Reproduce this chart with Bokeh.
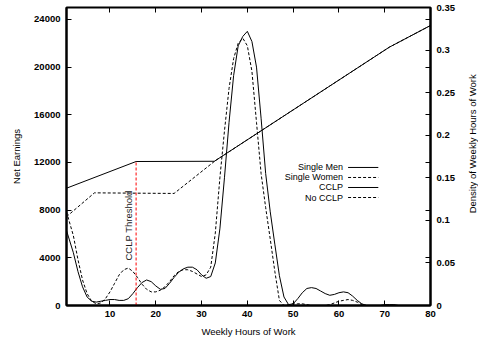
import math
from bokeh.plotting import figure
from bokeh.layouts import row
from bokeh.models import LinearAxis, Range1d, FixedTicker
from bokeh.core.properties import value
from bokeh.embed import file_html
from bokeh.resources import INLINE

# ---------------- data ----------------
hour_ticks = [10, 20, 30, 40, 50, 60, 70, 80]
earn_ticks = [0, 4000, 8000, 12000, 16000, 20000, 24000]
dens_ticks = [0, 0.05, 0.1, 0.15, 0.2, 0.25, 0.3, 0.35]
dens_tick_labels = ["0", "0.05", "0.1", "0.15", "0.2", "0.25", "0.3", "0.35"]

cclp_threshold = 15.7

men_hours = [0.5, 15.7, 32.8, 71, 80]
men_earn = [9840, 12080, 12100, 21670, 23490]

women_hours = [0.5, 6.6, 24, 33, 71, 80]
women_earn = [7450, 9450, 9400, 12150, 21670, 23490]

dens_hours = [0.5] + list(range(2, 81))
cclp_dens = [
    0.088, 0.062, 0.040, 0.022, 0.010, 0.005, 0.004, 0.005, 0.006,      # 0.5,2-9
    0.007, 0.007, 0.006, 0.006, 0.008, 0.014, 0.021, 0.027, 0.030, 0.028,  # 10-19
    0.023, 0.019, 0.020, 0.026, 0.033, 0.039, 0.043, 0.045, 0.045, 0.042,  # 20-29
    0.036, 0.032, 0.034, 0.050, 0.090, 0.150, 0.215, 0.270, 0.305, 0.316,  # 30-39
    0.322, 0.310, 0.280, 0.220, 0.155, 0.110, 0.072, 0.035, 0.010, 0.001,  # 40-49
    0.002, 0.008, 0.015, 0.020, 0.021, 0.020, 0.017, 0.014, 0.012, 0.013,  # 50-59
    0.015, 0.016, 0.015, 0.011, 0.006, 0.002, 0.000, 0.000, 0.000, 0.000,  # 60-69
    0.001, 0.001, 0.001, 0.000, 0.000, 0.000, 0.000, 0.000, 0.000, 0.000,  # 70-79
    0.000,                                                                  # 80
]
nocclp_dens = [
    0.110, 0.082, 0.054, 0.030, 0.014, 0.005, 0.002, 0.003, 0.008,      # 0.5,2-9
    0.016, 0.026, 0.036, 0.042, 0.044, 0.040, 0.033, 0.025, 0.019, 0.016,  # 10-19
    0.016, 0.018, 0.022, 0.028, 0.035, 0.040, 0.042, 0.042, 0.040, 0.037,  # 20-29
    0.034, 0.036, 0.045, 0.085, 0.150, 0.205, 0.255, 0.290, 0.308, 0.314,  # 30-39
    0.305, 0.275, 0.215, 0.155, 0.115, 0.078, 0.040, 0.006, 0.000, 0.001,  # 40-49
    0.002, 0.002, 0.002, 0.001, 0.000, 0.000, 0.000, 0.000, 0.001, 0.003,  # 50-59
    0.005, 0.006, 0.007, 0.006, 0.004, 0.001, 0.000, 0.000, 0.000, 0.000,  # 60-69
    0.000, 0.000, 0.000, 0.000, 0.000, 0.000, 0.000, 0.000, 0.000, 0.000,  # 70-79
    0.000,                                                                  # 80
]

legend_labels = ["Single Men", "Single Women", "CCLP", "No CCLP"]
legend_dash = ["solid", "3 2", "solid", "3 2"]

# ---------------- figure ----------------
FONT = "Liberation Sans"
EARN_MAX = 25000
DENS_MAX = 0.35
TOTAL_W, TOTAL_H, SIDE_W = 478, 341, 12

p = figure(width=TOTAL_W - SIDE_W, height=TOTAL_H, output_backend="svg",
           toolbar_location=None,
           x_range=Range1d(0.5, 80), y_range=Range1d(0, EARN_MAX),
           min_border_left=66, min_border_right=TOTAL_W - SIDE_W - 430,
           min_border_top=7, min_border_bottom=36)
p.extra_y_ranges = {"dens": Range1d(0, DENS_MAX)}
p.grid.visible = False
p.outline_line_color = "black"
p.outline_line_width = 2
p.background_fill_color = "white"
p.border_fill_color = "white"

def style_axis(ax, size="9.5px"):
    ax.major_tick_in = 5
    ax.major_tick_out = 0
    ax.minor_tick_line_color = None
    ax.axis_line_width = 2
    ax.axis_line_color = "black"
    ax.major_tick_line_color = "black"
    ax.major_tick_line_width = 1
    ax.major_label_text_font = FONT
    ax.major_label_text_font_size = size
    ax.major_label_text_font_style = "bold"
    ax.major_label_text_color = "black"
    ax.axis_label_text_font = FONT
    ax.axis_label_text_font_size = "9.5px"
    ax.axis_label_text_font_style = "normal"
    ax.axis_label_text_color = "black"

xa = p.xaxis[0]
style_axis(xa)
xa.ticker = FixedTicker(ticks=hour_ticks)
xa.major_label_standoff = 5
xa.axis_label = "Weekly Hours of Work"
xa.axis_label_standoff = 6

ya = p.yaxis[0]
style_axis(ya)
ya.ticker = FixedTicker(ticks=earn_ticks)
ya.major_label_standoff = 6
ya.axis_label = "Net Earnings"
ya.axis_label_standoff = 9

# top mirror ticks
top = LinearAxis(ticker=FixedTicker(ticks=hour_ticks))
style_axis(top, size="0px")
top.axis_line_color = None
top.major_label_standoff = 0
p.add_layout(top, "above")

# right density axis, with mirrored earnings ticks (unlabelled)
mirror = [t / EARN_MAX * DENS_MAX for t in earn_ticks[1:]]
ra = LinearAxis(y_range_name="dens", ticker=FixedTicker(ticks=dens_ticks + mirror))
style_axis(ra)
overrides = {t: s for t, s in zip(dens_ticks, dens_tick_labels)}
for m in mirror:
    overrides[m] = ""
ra.major_label_overrides = overrides
ra.major_label_standoff = 6
p.add_layout(ra, "right")

# ---------------- lines ----------------
p.line(men_hours, men_earn, line_color="black", line_width=1)
p.line(women_hours, women_earn, line_color="black", line_width=1, line_dash="3 2")
p.line(dens_hours, cclp_dens, y_range_name="dens", line_color="black", line_width=1)
p.line(dens_hours, nocclp_dens, y_range_name="dens", line_color="black",
       line_width=1, line_dash="3 2")

# threshold line
thr_top = men_earn[1]
p.segment(x0=[cclp_threshold], y0=[0], x1=[cclp_threshold], y1=[thr_top],
          line_color="#ff0000", line_width=1, line_dash="3 2")
p.text(x=[13.95], y=[3775], text=["CCLP Threshold"], angle=math.pi / 2,
       text_align="left", text_baseline="middle",
       text_font=value(FONT), text_font_size="9.5px", text_color="#222222")

# ---------------- legend (text right, sample on the right) ----------------
leg_x_text = 60.9
leg_x0, leg_x1 = 62.0, 68.6
leg_y = [11580, 10740, 9900, 9060]
p.text(x=[leg_x_text] * 4, y=leg_y, text=legend_labels, text_align="right",
       text_baseline="middle", text_font=value(FONT), text_font_size="9px",
       text_color="black")
for yy, d in zip(leg_y, legend_dash):
    p.segment(x0=[leg_x0], y0=[yy], x1=[leg_x1], y1=[yy], line_color="black",
              line_width=1, line_dash=d)

# ---------------- right axis title (narrow strip, reads bottom to top) ----------------
side = figure(width=SIDE_W, height=TOTAL_H, output_backend="svg",
              toolbar_location=None, x_axis_type=None, y_axis_type=None,
              x_range=Range1d(0, SIDE_W), y_range=Range1d(0, TOTAL_H),
              min_border=0)
side.grid.visible = False
side.outline_line_color = None
side.background_fill_color = "white"
side.border_fill_color = "white"
side.text(x=[SIDE_W / 2], y=[TOTAL_H - 156], text=["Density of Weekly Hours of Work"],
          angle=math.pi / 2, text_align="center", text_baseline="middle",
          text_font=value(FONT), text_font_size="9.5px", text_color="black")

layout = row(p, side, spacing=0)
open("out.html", "w").write(file_html(layout, INLINE))
